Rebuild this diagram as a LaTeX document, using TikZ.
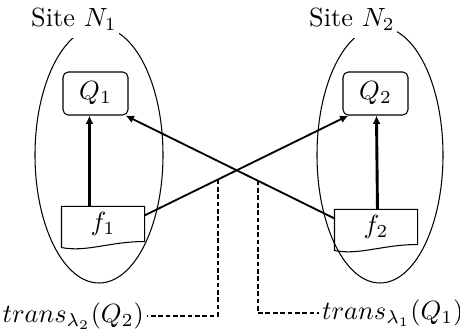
\documentclass[tikz,border=0pt]{standalone}
\usetikzlibrary{arrows.meta,calc}
\newlength\pxu
\setlength\pxu{0.38pt}
\begin{document}
\begin{tikzpicture}[
x=\pxu, y=-\pxu,
site/.style={fill=white, inner xsep=1pt, inner ysep=3pt},
qbox/.style={draw, rounded corners=2pt, minimum width=65*\pxu, minimum height=43*\pxu, inner sep=0pt},
fbox/.style={minimum width=82*\pxu, minimum height=34*\pxu, inner sep=0pt},
flow/.style={-{Latex[length=3.2pt,width=3pt]}, line width=1.1pt},
cross/.style={-{Latex[length=3.2pt,width=3pt]}, line width=0.7pt},
trace/.style={line width=0.7pt, dash pattern=on 1.8pt off 1pt},
lab/.style={inner sep=1pt}
]
\useasboundingbox (0,0) rectangle (460,331);
% sites
\draw[line width=0.4pt] (99,155) ellipse [x radius=64, y radius=128];
\draw[line width=0.4pt] (380,155) ellipse [x radius=63, y radius=128];
\node[site] (s1) at (74,19) {Site $N_1$};
\node[site] (s2) at (352,19) {Site $N_2$};
% queries
\node[qbox] (Q1) at (95.5,93.5) {$Q_1$};
\node[qbox] (Q2) at (375.5,93.5) {$Q_2$};
% fragments
\node[fbox] (f1) at (103,224) {$f_1$\hspace{8pt}};
\node[fbox] (f2) at (376,227) {$f_2$};
\draw (f1.north west) -- (f1.north east) -- (f1.south east)
  .. controls +(-35,0) and +(25,5) .. ($(f1.south west)+(0,6)$) -- cycle;
\draw (f2.north west) -- (f2.north east) -- (f2.south east)
  .. controls +(-35,0) and +(25,5) .. ($(f2.south west)+(0,6)$) -- cycle;
% arrows
\draw[flow] ($(f1.north west)+(28,0)$) -- ($(Q1.south west)+(27,0)$);
\draw[flow] ($(f2.north west)+(43,0)$) -- ($(Q2.south west)+(34,0)$);
\draw[cross] ($(f1.north east)+(0,9)$) -- coordinate[pos=0.36] (j2) ($(Q2.south west)+(6,0)$);
\draw[cross] ($(f2.north west)+(0,9)$) -- coordinate[pos=0.367] (j1) ($(Q1.south east)+(-3,0)$);
% transfers
\node[lab, anchor=east] (t2) at (147,316) {$trans_{\lambda_2}(Q_2)$};
\node[lab, anchor=west] (t1) at (319,313) {$trans_{\lambda_1}(Q_1)$};
\draw[trace] (j2) |- (t2.east);
\draw[trace] (j1) |- (t1.west);
\end{tikzpicture}
\end{document}
